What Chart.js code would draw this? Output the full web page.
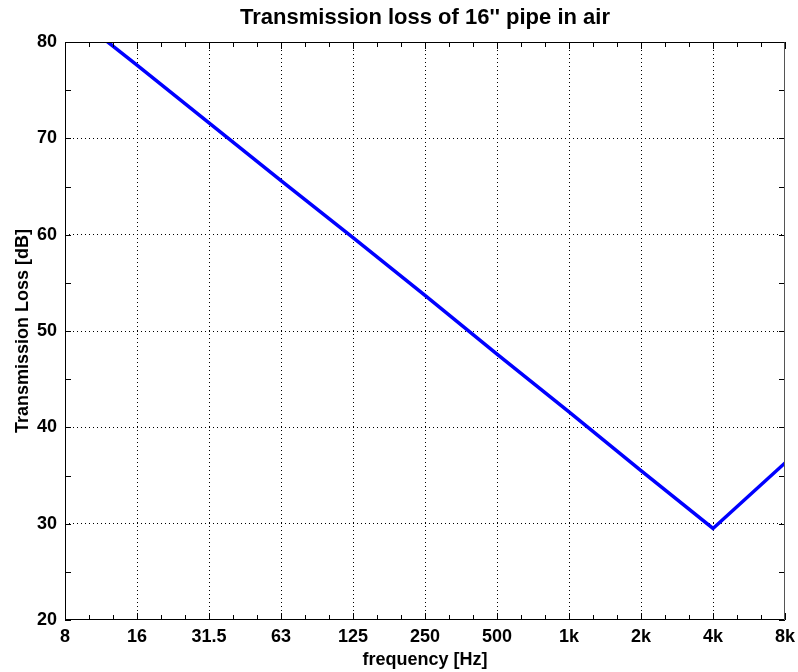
<!DOCTYPE html>
<html>
<head>
<meta charset="utf-8">
<script src="https://cdn.jsdelivr.net/npm/chart.js@4/dist/chart.umd.min.js"></script>
<style>
  html, body { margin: 0; padding: 0; background: #ffffff; }
  #wrap { width: 798px; height: 672px; }
</style>
</head>
<body>
<div id="wrap"><canvas id="c" width="798" height="672"></canvas></div>
<script>
// ---- data ----
const tickLabels = ['8', '16', '31.5', '63', '125', '250', '500', '1k', '2k', '4k', '8k'];
// octave-band positions on the log axis (nominal labels above)
const bandFreqs = [8, 16, 32, 64, 128, 256, 512, 1024, 2048, 4096, 8192];
const transmissionLoss = [83.5, 77.6, 71.6, 65.6, 59.7, 53.7, 47.6, 41.6, 35.5, 29.5, 36.3];
const yTickValues = [20, 25, 30, 35, 40, 45, 50, 55, 60, 65, 70, 75, 80];

const FONT = "'Liberation Sans', Arial, Helvetica, sans-serif";

// x ticks: octave majors plus third-octave minors
function buildXTicks() {
  const t = [];
  for (let i = 0; i < bandFreqs.length; i++) {
    t.push({ value: bandFreqs[i], major: true, idx: i });
    if (i < bandFreqs.length - 1) {
      const r = Math.cbrt(bandFreqs[i + 1] / bandFreqs[i]);
      t.push({ value: bandFreqs[i] * r, major: false });
      t.push({ value: bandFreqs[i] * r * r, major: false });
    }
  }
  return t;
}

const framePlugin = {
  id: 'framePlugin',
  afterDraw(chart) {
    const { ctx, chartArea: a } = chart;
    const xs = chart.scales.x, ys = chart.scales.y;
    ctx.save();
    ctx.lineWidth = 1;
    ctx.strokeStyle = '#000';
    xs.ticks.forEach(t => {
      const px = Math.round(xs.getPixelForValue(t.value)) + 0.5;
      const len = t.major ? 7 : 5;
      ctx.beginPath();
      ctx.moveTo(px, a.bottom); ctx.lineTo(px, a.bottom - len);
      ctx.moveTo(px, a.top); ctx.lineTo(px, a.top + len);
      ctx.stroke();
    });
    ys.ticks.forEach(t => {
      const py = Math.round(ys.getPixelForValue(t.value)) + 0.5;
      ctx.beginPath();
      ctx.moveTo(a.left, py); ctx.lineTo(a.left + 6, py);
      ctx.moveTo(a.right, py); ctx.lineTo(a.right - 6, py);
      ctx.stroke();
    });
    const L = Math.round(a.left) + 0.5, R = Math.round(a.right) - 0.5;
    const T = Math.round(a.top) + 0.5, B = Math.round(a.bottom) - 0.5;
    ctx.strokeStyle = '#000';
    ctx.beginPath();
    ctx.moveTo(R, T); ctx.lineTo(L, T); ctx.lineTo(L, B); ctx.lineTo(R, B);
    ctx.stroke();
    ctx.strokeStyle = '#555';
    ctx.beginPath();
    ctx.moveTo(R, T); ctx.lineTo(R, B);
    ctx.stroke();
    ctx.restore();
  }
};

Chart.defaults.color = '#000';
Chart.defaults.font.family = FONT;

new Chart(document.getElementById('c'), {
  type: 'line',
  data: {
    datasets: [{
      data: bandFreqs.map((f, i) => ({ x: f, y: transmissionLoss[i] })),
      borderColor: '#0000ff',
      borderWidth: 3.5,
      pointRadius: 0,
      tension: 0,
      fill: false,
      clip: 0
    }]
  },
  options: {
    responsive: false,
    animation: false,
    layout: { padding: { left: 0, right: 13, top: 0, bottom: 0 } },
    plugins: {
      legend: { display: false },
      tooltip: { enabled: false },
      title: {
        display: true,
        fullSize: false,
        text: "Transmission loss of 16'' pipe in air",
        color: '#000',
        font: { family: FONT, size: 22, weight: 'bold' },
        padding: { top: 5, bottom: 10.6 }
      }
    },
    scales: {
      x: {
        type: 'logarithmic',
        min: bandFreqs[0],
        max: bandFreqs[bandFreqs.length - 1],
        afterBuildTicks: s => { s.ticks = buildXTicks(); },
        afterFit: s => { s.height = 52; s.paddingLeft = 0; s.paddingRight = 0; },
        border: { display: false, dash: [1, 3] },
        grid: {
          drawTicks: false,
          lineWidth: 1,
          color: c => (c.tick && c.tick.major && c.index !== 0 && c.index !== 30) ? '#000' : 'rgba(0,0,0,0)'
        },
        ticks: {
          autoSkip: false,
          maxRotation: 0,
          minRotation: 0,
          padding: 6,
          color: '#000',
          font: { family: FONT, size: 18, weight: 'bold' },
          callback: function (v, i, ticks) {
            const t = ticks[i];
            return t && t.major ? tickLabels[t.idx] : '';
          }
        },
        title: {
          display: true,
          text: 'frequency [Hz]',
          color: '#000',
          font: { family: FONT, size: 18, weight: 'bold' },
          padding: { top: 0, bottom: 1 }
        }
      },
      y: {
        type: 'linear',
        min: 20,
        max: 80,
        afterBuildTicks: s => { s.ticks = yTickValues.map(v => ({ value: v })); },
        afterFit: s => { s.width = 65; },
        border: { display: false, dash: [1, 3] },
        grid: {
          drawTicks: false,
          lineWidth: 1,
          color: c => (c.tick && c.tick.value % 10 === 0 && c.tick.value !== 20 && c.tick.value !== 80) ? '#000' : 'rgba(0,0,0,0)'
        },
        ticks: {
          padding: 8,
          color: '#000',
          font: { family: FONT, size: 18, weight: 'bold' },
          callback: v => (v % 10 === 0 ? String(v) : '')
        },
        title: {
          display: true,
          text: 'Transmission Loss [dB]',
          color: '#000',
          font: { family: FONT, size: 18, weight: 'bold' },
          padding: { top: 12, bottom: 0 }
        }
      }
    }
  },
  plugins: [framePlugin]
});
</script>
</body>
</html>
